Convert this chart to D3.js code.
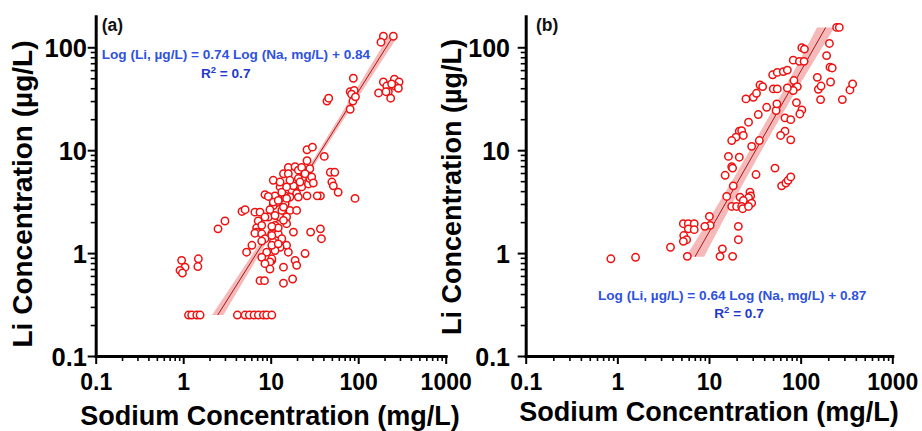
<!DOCTYPE html>
<html><head><meta charset="utf-8">
<script src="https://cdn.jsdelivr.net/npm/d3@7"></script>
<style>
body{margin:0;background:#fff}
svg{display:block}
text{font-family:"Liberation Sans",Arial,Helvetica,sans-serif;font-weight:bold}
</style>
</head><body>
<svg id="chart" width="922" height="431"></svg>
<script>
// ---- Data: [Sodium mg/L, Li µg/L] ----
const pointsA = [
[194,128],[182,112],[252,128],[88,50],[81,37],[90,38],[84,35],[87,30],[81,25],[93,33],[44,30],[46,32],[171,36],[194,46],[212,42],[221,37],[259,49],[293,46],[264,42],[288,40],[235,32],[208,37],[241,44],
[26,10.1],[30,10.7],[41,8.7],[26,7.9],
[10.7,5.1],[12.8,4.4],[14.0,5.9],[15.9,6.8],[19.0,6.9],[20.7,6.4],[23.6,5.5],[28,6.6],[11.2,3.6],[14.6,3.6],[17.4,4.1],[22.6,4.4],[27,4.7],[37,3.6],[34,3.6],[48,6.1],[54,6.1],[50,4.9],[52,4.5],[59,3.9],[92,3.4],[26,3.6],[19.8,3.8],[28,5.3],[20.7,5.3],[15.9,5.9],[13.4,3.9],[11.7,3.1],[16.6,3.5],[14.6,3.0],[10.7,2.9],[16.6,2.6],[19.8,2.6],[12.8,2.24],[15.2,2.24],[11.2,1.86],[10.3,1.54],[15.2,1.93],[18.2,1.6],[12.2,1.54],[13.4,1.38],[10.7,1.28],[15.2,1.19],[12.8,1.14],[11.2,1.06],[15.9,1.02],[10.3,0.85],[14.0,0.73],[19.0,0.85],[19.8,0.76],[24.7,0.99],[28.6,1.6],[37,1.72],[38,1.38],[14.0,0.51],[17.8,0.56],
[8.6,3.7],[9.4,3.55],[10.7,3.13],[12.2,3.25],[4.7,2.54],[5.1,2.64],[6.6,2.5],[7.55,2.5],[9.8,2.64],[9.4,2.24],[7.2,2.05],[8.6,2.24],[11.2,2.32],[13.4,2.6],[14.0,2.08],[3.0,2.05],[2.5,1.72],[6.9,1.76],[6.9,1.6],[12.2,1.76],[10.3,1.82],[12.8,4.9],
[7.9,1.86],[6.6,1.56],[7.9,1.54],[10.3,1.48],[8.6,1.38],[7.9,1.31],[6.1,1.19],[5.3,1.02],[10.3,1.19],[12.2,1.23],[9.0,1.02],[7.9,0.91],[10.3,0.88],[9.8,0.82],[8.6,0.79],[9.8,0.70],[7.55,0.54],[8.5,0.54],
[0.96,0.85],[1.05,0.73],[0.92,0.68],[0.98,0.64],[1.49,0.88],[1.47,0.74],
[1.15,0.25],[1.25,0.25],[1.43,0.25],[1.56,0.25],[4.16,0.25],[5.09,0.25],[5.7,0.25],[6.45,0.25],[7.23,0.25],[8.25,0.25],[9.0,0.25],[10.3,0.25],
[22.6,6.8],[24.7,5.9],[29.4,5.5],[21.6,4.9],[30.7,4.8],[18.2,4.5],[16.6,5.1],[15.2,4.4],[20.7,3.5],[14.0,2.8],[15.2,3.4]
];
const pointsB = [
[247,156],[264,156],[206,109],[192,83],[209,64],[221,63],[212,46],[152,51],[156,39],[167,42],[165,31],[285,31],[345,38.5],[369,44],
[103,99],[110,96],[83,75],[97,73],[109,73],[49.5,54],[55.6,57],[64.7,58],[71.6,60],[84.5,47.5],[92,41.5],[83,38],[71.6,40.3],[50.3,39.4],[55.6,39.4],
[90,29],[103,24.6],[98,22.5],[67.5,20.6],[78,19.8],[67.5,15.3],[60.5,13.9],[78,12.6],[54,24.3],[55,28.2],[42.6,26.1],[34.5,22.2],[36,43],[38.5,41.5],[30.5,32.7],[25.3,31.5],[33,35.7],
[27,18.7],[21.4,15.3],[22.7,15.5],[19.7,13.4],[23.7,13.9],[17.7,12.4],[35.4,12.4],[29.2,10.9],[16.3,8.7],[21.4,8.55],[17.7,6.9],[18.1,6.7],[15.0,5.7],[32.6,5.8],[52.5,6.7],
[18.4,4.5],[62,4.5],[69,4.8],[73,5.1],[78,5.5],[15.6,3.55],[21.8,3.5],[28,3.9],[28.5,3.6],[27,3.45],[23.7,3.25],[29.2,3.06],[17.7,2.84],[20,2.84],[22.7,2.84],[23.3,2.7],[27,2.84],
[10.1,2.27],[10.3,1.86],[9.0,1.82],[5.25,1.93],[5.95,1.93],[6.9,1.93],[5.95,1.72],[6.9,1.69],[5.3,1.48],[5.7,1.35],[5.25,1.3],[20.9,1.82],[20.9,1.35],
[3.8,1.14],[14.0,1.10],[13.2,0.93],[18.1,0.93],[0.85,0.88],[1.58,0.91],[5.8,0.93]
];

// ---- Axes ----
const xTickValues = [0.1, 1, 10, 100, 1000];
const xTickLabels = ["0.1", "1", "10", "100", "1000"];
const yTickValues = [0.1, 1, 10, 100];
const yTickLabels = ["0.1", "1", "10", "100"];
const xDomain = [0.1, 1000];
const yDomain = [0.1, 200];
const xTitle = "Sodium Concentration (mg/L)";
const yTitle = "Li Concentration (\u00b5g/L)";

// ---- Fits (line drawn: log Na = slope·log Li + intercept) ----
const fitA = {slope: 0.74, intercept: 0.84, liRange: [0.25, 125]};
const fitB = {slope: 0.64, intercept: 0.87, liRange: [0.92, 156]};
// confidence band half-width (decades of Na) at given Li
const bandLiA = [0.25, 1, 3, 10, 40, 125];
const bandHalfA = [0.065, 0.04, 0.025, 0.028, 0.04, 0.055];
const bandLiB = [0.92, 3, 10, 40, 156];
const bandHalfB = [0.1, 0.075, 0.065, 0.07, 0.095];

const eqA = ["Log (Li, \u00b5g/L) = 0.74 Log (Na, mg/L) + 0.84", "0.7"];
const eqB = ["Log (Li, \u00b5g/L) = 0.64 Log (Na, mg/L) + 0.87", "0.7"];

const panels = [
  {tag:"(a)", pts:pointsA, fit:fitA, bLi:bandLiA, bH:bandHalfA, eq:eqA,
   x0:95.7, x1:445.7, yB:356, yT:16.3, yLabRight:87, yTickFont:25.5, xTickFont:23,
   yTitleX:32, yTitleY:194, yTitleSize:28, xTitleX:270, xTitleY:424.5, xTitleSize:27,
   tagX:101.7, tagY:31, eqX:101.7, eqY:58.5, r2X:225.7, r2Y:78.3},
  {tag:"(b)", pts:pointsB, fit:fitB, bLi:bandLiB, bH:bandHalfB, eq:eqB,
   x0:525.7, x1:892.3, yB:356, yT:16.3, yLabRight:510, yTickFont:25, xTickFont:23,
   yTitleX:461, yTitleY:187, yTitleSize:27, xTitleX:709, xTitleY:421, xTitleSize:27,
   tagX:536, tagY:31, eqX:598, eqY:300, r2X:739, r2Y:318}
];

const svg = d3.select("#chart");

function minorTicks(domain) {
  const out = [];
  for (let e = -1; e <= 3; e++) {
    for (let m = 2; m <= 9; m++) {
      const v = m * Math.pow(10, e);
      if (v > domain[0] && v < domain[1]) out.push(+v.toPrecision(3));
    }
  }
  return out;
}

panels.forEach(p => {
  const x = d3.scaleLog().domain(xDomain).range([p.x0, p.x1]);
  const y = d3.scaleLog().domain(yDomain).range([p.yB, p.yT]);
  const g = svg.append("g");

  // band
  const bandData = p.bLi.map((li, i) => ({li, h: p.bH[i]}));
  const naFit = li => Math.pow(10, p.fit.intercept + p.fit.slope * Math.log10(li));
  const area = d3.area()
    .y(d => y(d.li))
    .x0(d => x(naFit(d.li) * Math.pow(10, -d.h)))
    .x1(d => x(naFit(d.li) * Math.pow(10, d.h)))
    .curve(d3.curveMonotoneY);
  g.append("path").datum(bandData).attr("d", area)
    .attr("fill", "#f08a8a").attr("fill-opacity", 0.6).attr("stroke", "none");

  // fit line
  g.append("line")
    .attr("x1", x(naFit(p.fit.liRange[0]))).attr("y1", y(p.fit.liRange[0]))
    .attr("x2", x(naFit(p.fit.liRange[1]))).attr("y2", y(p.fit.liRange[1]))
    .attr("stroke", "#a81818").attr("stroke-width", 1);

  // points
  g.append("g").selectAll("circle").data(p.pts).join("circle")
    .attr("cx", d => x(d[0])).attr("cy", d => y(d[1])).attr("r", 3.7)
    .attr("fill", "#fff").attr("stroke", "#ee1111").attr("stroke-width", 1.5);

  // minor ticks
  const gxm = g.append("g").attr("transform", `translate(0,${p.yB})`)
    .call(d3.axisBottom(x).tickValues(minorTicks(xDomain)).tickSize(5).tickFormat(""));
  gxm.select(".domain").remove();
  gxm.selectAll("line").attr("stroke", "#000").attr("stroke-width", 1.6);
  const gym = g.append("g").attr("transform", `translate(${p.x0},0)`)
    .call(d3.axisLeft(y).tickValues(minorTicks(yDomain)).tickSize(5).tickFormat(""));
  gym.select(".domain").remove();
  gym.selectAll("line").attr("stroke", "#000").attr("stroke-width", 1.6);

  // major axes
  const gx = g.append("g").attr("transform", `translate(0,${p.yB})`)
    .call(d3.axisBottom(x).tickValues(xTickValues).tickSize(8).tickSizeOuter(0)
      .tickFormat((d, i) => xTickLabels[i]));
  gx.select(".domain").attr("stroke", "#000").attr("stroke-width", 3).attr("stroke-linecap", "square");
  gx.selectAll(".tick line").attr("stroke", "#000").attr("stroke-width", 2);
  gx.selectAll(".tick text").attr("y", 34).attr("dy", 0)
    .attr("font-size", p.xTickFont).attr("fill", "#000")
    .style("font-family", '"Liberation Sans",Arial,sans-serif').style("font-weight", "bold");

  const gy = g.append("g").attr("transform", `translate(${p.x0},0)`)
    .call(d3.axisLeft(y).tickValues(yTickValues).tickSize(8).tickSizeOuter(0)
      .tickFormat((d, i) => yTickLabels[i]));
  gy.select(".domain").attr("stroke", "#000").attr("stroke-width", 3).attr("stroke-linecap", "square");
  gy.selectAll(".tick line").attr("stroke", "#000").attr("stroke-width", 2);
  gy.selectAll(".tick text").attr("x", p.yLabRight - p.x0).attr("dy", "0.36em")
    .attr("font-size", p.yTickFont).attr("fill", "#000")
    .style("font-family", '"Liberation Sans",Arial,sans-serif').style("font-weight", "bold");

  // titles
  g.append("text").attr("x", p.xTitleX).attr("y", p.xTitleY).attr("text-anchor", "middle")
    .attr("font-size", p.xTitleSize).attr("fill", "#000").text(xTitle);
  g.append("text").attr("transform", `translate(${p.yTitleX},${p.yTitleY}) rotate(-90)`)
    .attr("text-anchor", "middle").attr("font-size", p.yTitleSize).attr("fill", "#000").text(yTitle);

  // panel tag
  g.append("text").attr("x", p.tagX).attr("y", p.tagY).attr("font-size", 17.5)
    .attr("fill", "#111").text(p.tag);

  // equation
  g.append("text").attr("x", p.eqX).attr("y", p.eqY).attr("font-size", 13.6)
    .attr("fill", "#2f52e0").text(p.eq[0]);
  const r2 = g.append("text").attr("x", p.r2X).attr("y", p.r2Y).attr("text-anchor", "middle")
    .attr("font-size", 13.6).attr("fill", "#2238cc");
  r2.append("tspan").text("R");
  r2.append("tspan").attr("dy", -5).attr("font-size", 9.5).text("2");
  r2.append("tspan").attr("dy", 5).text(" = " + p.eq[1]);
});
</script>
</body></html>
